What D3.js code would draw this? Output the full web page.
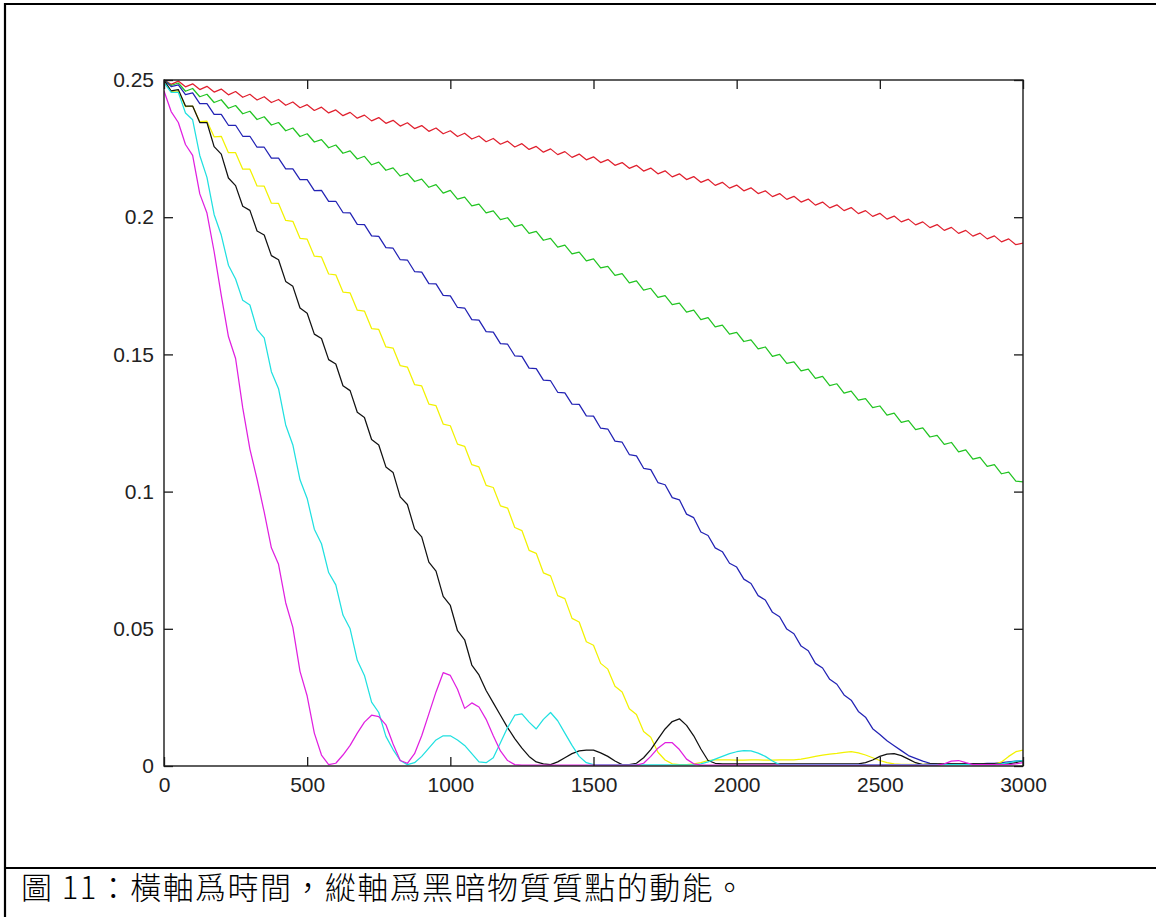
<!DOCTYPE html>
<html>
<head>
<meta charset="utf-8">
<script src="https://cdn.jsdelivr.net/npm/d3@7"></script>
<style>
  html, body { margin: 0; padding: 0; background: #fff; }
  svg { display: block; }
</style>
</head>
<body>
<svg id="chart" width="1156" height="917"></svg>
<script>
// Kinetic energy of the dark-matter particles, sampled every 25 time units (0..3000)
const timeStep = 25;
const xTicks = [0, 500, 1000, 1500, 2000, 2500, 3000];
const xTickLabels = ["0", "500", "1000", "1500", "2000", "2500", "3000"];
const yTicks = [0, 0.05, 0.1, 0.15, 0.2, 0.25];
const yTickLabels = ["0", "0.05", "0.1", "0.15", "0.2", "0.25"];
const caption = "圖 11：橫軸爲時間，縱軸爲黑暗物質質點的動能。";

const red = [
  0.2500,0.2484,0.2496,0.2475,0.2486,0.2465,0.2477,0.2456,0.2467,0.2446,
  0.2458,0.2437,0.2448,0.2427,0.2439,0.2418,0.2429,0.2408,0.2420,0.2399,
  0.2410,0.2389,0.2401,0.2380,0.2391,0.2370,0.2382,0.2361,0.2372,0.2351,
  0.2363,0.2342,0.2353,0.2332,0.2344,0.2323,0.2334,0.2313,0.2325,0.2304,
  0.2315,0.2294,0.2306,0.2285,0.2296,0.2275,0.2287,0.2266,0.2277,0.2256,
  0.2268,0.2247,0.2258,0.2237,0.2249,0.2228,0.2239,0.2218,0.2230,0.2209,
  0.2220,0.2199,0.2210,0.2189,0.2199,0.2178,0.2189,0.2168,0.2179,0.2158,
  0.2169,0.2147,0.2158,0.2137,0.2148,0.2127,0.2138,0.2116,0.2127,0.2106,
  0.2117,0.2096,0.2107,0.2086,0.2096,0.2075,0.2086,0.2065,0.2076,0.2055,
  0.2066,0.2044,0.2055,0.2034,0.2045,0.2024,0.2035,0.2013,0.2024,0.2003,
  0.2014,0.1993,0.2004,0.1983,0.1993,0.1972,0.1983,0.1962,0.1973,0.1952,
  0.1963,0.1941,0.1952,0.1931,0.1942,0.1921,0.1932,0.1910,0.1921,0.1900,
  0.1906
];

const green = [
  0.2500,0.2480,0.2489,0.2459,0.2469,0.2439,0.2448,0.2418,0.2428,0.2397,
  0.2407,0.2377,0.2386,0.2356,0.2366,0.2336,0.2345,0.2315,0.2325,0.2294,
  0.2304,0.2274,0.2283,0.2253,0.2263,0.2233,0.2242,0.2212,0.2222,0.2191,
  0.2201,0.2171,0.2180,0.2150,0.2160,0.2130,0.2139,0.2109,0.2119,0.2088,
  0.2098,0.2066,0.2073,0.2041,0.2048,0.2016,0.2023,0.1991,0.1998,0.1966,
  0.1973,0.1941,0.1948,0.1916,0.1923,0.1891,0.1898,0.1866,0.1873,0.1841,
  0.1848,0.1815,0.1821,0.1788,0.1794,0.1761,0.1768,0.1734,0.1741,0.1708,
  0.1714,0.1681,0.1687,0.1654,0.1661,0.1627,0.1634,0.1600,0.1607,0.1574,
  0.1580,0.1547,0.1553,0.1520,0.1527,0.1493,0.1500,0.1467,0.1473,0.1440,
  0.1446,0.1413,0.1420,0.1386,0.1393,0.1359,0.1366,0.1333,0.1339,0.1306,
  0.1312,0.1279,0.1286,0.1252,0.1259,0.1226,0.1232,0.1199,0.1205,0.1172,
  0.1179,0.1145,0.1152,0.1118,0.1125,0.1092,0.1098,0.1065,0.1071,0.1038,
  0.1035
];

const blue = [
  0.2500,0.2476,0.2482,0.2447,0.2453,0.2414,0.2414,0.2375,0.2375,0.2335,
  0.2335,0.2295,0.2295,0.2255,0.2255,0.2215,0.2215,0.2176,0.2176,0.2137,
  0.2137,0.2097,0.2098,0.2058,0.2058,0.2017,0.2016,0.1974,0.1973,0.1932,
  0.1930,0.1889,0.1887,0.1845,0.1844,0.1802,0.1800,0.1758,0.1757,0.1715,
  0.1713,0.1671,0.1669,0.1627,0.1625,0.1583,0.1581,0.1539,0.1537,0.1495,
  0.1493,0.1450,0.1448,0.1406,0.1404,0.1362,0.1360,0.1319,0.1318,0.1276,
  0.1275,0.1231,0.1228,0.1184,0.1180,0.1135,0.1130,0.1085,0.1080,0.1033,
  0.1025,0.0978,0.0970,0.0918,0.0905,0.0853,0.0840,0.0795,0.0781,0.0739,
  0.0725,0.0681,0.0665,0.0621,0.0605,0.0560,0.0544,0.0499,0.0482,0.0437,
  0.0420,0.0374,0.0357,0.0316,0.0298,0.0259,0.0240,0.0199,0.0178,0.0136,
  0.0115,0.0092,0.0074,0.0056,0.0038,0.0028,0.0018,0.0010,0.0008,0.0007,
  0.0008,0.0007,0.0008,0.0009,0.0008,0.0010,0.0010,0.0012,0.0015,0.0018,
  0.0020
];

const yellow = [
  0.2500,0.2458,0.2460,0.2403,0.2405,0.2348,0.2350,0.2293,0.2295,0.2235,
  0.2235,0.2175,0.2175,0.2114,0.2113,0.2051,0.2050,0.1988,0.1985,0.1923,
  0.1920,0.1858,0.1855,0.1793,0.1790,0.1727,0.1724,0.1661,0.1658,0.1594,
  0.1591,0.1527,0.1523,0.1459,0.1454,0.1390,0.1385,0.1319,0.1313,0.1246,
  0.1240,0.1173,0.1165,0.1098,0.1090,0.1023,0.1015,0.0948,0.0940,0.0869,
  0.0858,0.0786,0.0775,0.0704,0.0693,0.0621,0.0610,0.0538,0.0525,0.0453,
  0.0440,0.0374,0.0353,0.0291,0.0270,0.0209,0.0188,0.0126,0.0105,0.0050,
  0.0022,0.0008,0.0005,0.0005,0.0008,0.0012,0.0020,0.0022,0.0022,0.0022,
  0.0021,0.0021,0.0022,0.0022,0.0021,0.0021,0.0022,0.0022,0.0022,0.0025,
  0.0030,0.0035,0.0040,0.0043,0.0046,0.0050,0.0052,0.0048,0.0040,0.0030,
  0.0020,0.0012,0.0008,0.0006,0.0006,0.0006,0.0006,0.0006,0.0006,0.0006,
  0.0006,0.0006,0.0006,0.0006,0.0006,0.0006,0.0006,0.0015,0.0035,0.0052,
  0.0058
];

const black = [
  0.2500,0.2460,0.2465,0.2405,0.2405,0.2345,0.2345,0.2257,0.2230,0.2143,
  0.2115,0.2040,0.2025,0.1950,0.1935,0.1860,0.1845,0.1766,0.1748,0.1669,
  0.1650,0.1574,0.1558,0.1481,0.1465,0.1386,0.1368,0.1289,0.1270,0.1190,
  0.1170,0.1090,0.1070,0.0981,0.0953,0.0864,0.0835,0.0743,0.0710,0.0618,
  0.0585,0.0493,0.0460,0.0368,0.0332,0.0275,0.0230,0.0185,0.0140,0.0100,
  0.0065,0.0035,0.0015,0.0008,0.0005,0.0015,0.0030,0.0045,0.0055,0.0058,
  0.0058,0.0048,0.0035,0.0018,0.0005,0.0005,0.0010,0.0030,0.0060,0.0098,
  0.0135,0.0162,0.0172,0.0148,0.0110,0.0062,0.0020,0.0010,0.0008,0.0008,
  0.0008,0.0008,0.0008,0.0008,0.0008,0.0008,0.0008,0.0008,0.0008,0.0008,
  0.0008,0.0008,0.0008,0.0008,0.0008,0.0008,0.0008,0.0008,0.0012,0.0022,
  0.0035,0.0043,0.0045,0.0038,0.0025,0.0012,0.0005,0.0008,0.0008,0.0008,
  0.0008,0.0008,0.0008,0.0008,0.0008,0.0008,0.0008,0.0008,0.0008,0.0012,
  0.0020
];

const cyan = [
  0.2490,0.2455,0.2455,0.2380,0.2355,0.2225,0.2145,0.2010,0.1935,0.1825,
  0.1775,0.1697,0.1680,0.1590,0.1560,0.1437,0.1375,0.1243,0.1170,0.1043,
  0.0975,0.0863,0.0810,0.0705,0.0660,0.0550,0.0500,0.0385,0.0330,0.0233,
  0.0195,0.0108,0.0060,0.0020,0.0005,0.0012,0.0035,0.0065,0.0095,0.0110,
  0.0110,0.0095,0.0075,0.0045,0.0015,0.0012,0.0030,0.0085,0.0140,0.0185,
  0.0190,0.0160,0.0135,0.0170,0.0195,0.0165,0.0120,0.0075,0.0035,0.0012,
  0.0005,0.0004,0.0004,0.0004,0.0004,0.0004,0.0004,0.0004,0.0004,0.0004,
  0.0004,0.0004,0.0004,0.0004,0.0004,0.0008,0.0015,0.0025,0.0035,0.0045,
  0.0052,0.0056,0.0055,0.0047,0.0035,0.0018,0.0005,0.0005,0.0005,0.0005,
  0.0005,0.0005,0.0005,0.0005,0.0005,0.0005,0.0005,0.0005,0.0005,0.0005,
  0.0005,0.0005,0.0005,0.0005,0.0005,0.0005,0.0005,0.0005,0.0005,0.0005,
  0.0005,0.0005,0.0005,0.0005,0.0005,0.0005,0.0005,0.0008,0.0012,0.0018,
  0.0020
];

const magenta = [
  0.2460,0.2385,0.2345,0.2265,0.2225,0.2085,0.2015,0.1875,0.1715,0.1565,
  0.1485,0.1305,0.1155,0.1045,0.0925,0.0795,0.0735,0.0595,0.0505,0.0345,
  0.0255,0.0120,0.0040,0.0005,0.0010,0.0040,0.0075,0.0120,0.0160,0.0185,
  0.0180,0.0150,0.0080,0.0020,0.0010,0.0045,0.0110,0.0190,0.0270,0.0340,
  0.0330,0.0280,0.0210,0.0230,0.0215,0.0170,0.0110,0.0055,0.0020,0.0005,
  0.0003,0.0003,0.0003,0.0003,0.0003,0.0003,0.0003,0.0003,0.0003,0.0003,
  0.0003,0.0003,0.0003,0.0003,0.0003,0.0003,0.0003,0.0010,0.0035,0.0065,
  0.0085,0.0085,0.0060,0.0025,0.0008,0.0003,0.0003,0.0003,0.0003,0.0003,
  0.0003,0.0003,0.0003,0.0003,0.0003,0.0003,0.0003,0.0003,0.0003,0.0003,
  0.0003,0.0003,0.0003,0.0003,0.0003,0.0003,0.0003,0.0003,0.0003,0.0003,
  0.0003,0.0003,0.0003,0.0003,0.0003,0.0003,0.0003,0.0003,0.0003,0.0008,
  0.0018,0.0020,0.0012,0.0005,0.0005,0.0005,0.0005,0.0005,0.0005,0.0008,
  0.0012
];

// Plot order (last one ends up on top)
const series = [
  { values: red,     color: "#e0202e" },
  { values: green,   color: "#22c422" },
  { values: blue,    color: "#2222b4" },
  { values: yellow,  color: "#f2f200" },
  { values: black,   color: "#111111" },
  { values: cyan,    color: "#20e0e0" },
  { values: magenta, color: "#e020e0" }
];

const W = 1156, H = 917;
const plot = { left: 164, right: 1023, top: 80, bottom: 766 };

const svg = d3.select("#chart");

// Page frame and caption cell
const frame = svg.append("g").attr("stroke", "#000").attr("stroke-width", 2.2);
frame.append("line").attr("x1", 5).attr("x2", 5).attr("y1", 3).attr("y2", H);
frame.append("line").attr("x1", 4).attr("x2", W).attr("y1", 4).attr("y2", 4);
frame.append("line").attr("x1", 4).attr("x2", W).attr("y1", 868).attr("y2", 868);

svg.append("text")
  .attr("x", 21)
  .attr("y", 899)
  .attr("font-family", "'Noto Sans CJK TC', 'Noto Sans CJK SC', sans-serif")
  .attr("font-size", 31)
  .attr("font-weight", 300)
  .attr("textLength", 724)
  .attr("lengthAdjust", "spacing")
  .attr("fill", "#000")
  .text(caption);

const x = d3.scaleLinear().domain([0, 3000]).range([plot.left, plot.right]);
const y = d3.scaleLinear().domain([0, 0.25]).range([plot.bottom, plot.top]);

svg.append("defs").append("clipPath").attr("id", "plotClip")
  .append("rect")
  .attr("x", plot.left).attr("y", plot.top - 2)
  .attr("width", plot.right - plot.left).attr("height", plot.bottom - plot.top + 2);

const line = d3.line()
  .x((d, i) => x(i * timeStep))
  .y(d => y(d));

const lines = svg.append("g").attr("clip-path", "url(#plotClip)");
series.forEach(s => {
  lines.append("path")
    .datum(s.values)
    .attr("fill", "none")
    .attr("stroke", s.color)
    .attr("stroke-width", 1.25)
    .attr("stroke-linejoin", "round")
    .attr("d", line);
});

// Axes: ticks point inward on all four sides
const tickFont = "'Liberation Sans', Arial, Helvetica, sans-serif";
function styleAxis(g) {
  g.select(".domain").remove();
  g.selectAll(".tick line").attr("stroke", "#1a1a1a").attr("stroke-width", 1.3);
  g.selectAll(".tick text")
    .attr("font-family", tickFont)
    .attr("font-size", 21)
    .attr("fill", "#222");
}

svg.append("g")
  .attr("transform", `translate(0,${plot.bottom})`)
  .call(d3.axisBottom(x).tickValues(xTicks)
    .tickFormat((d, i) => xTickLabels[i]).tickSizeInner(-9).tickSizeOuter(0).tickPadding(11))
  .call(styleAxis);

svg.append("g")
  .attr("transform", `translate(${plot.left},0)`)
  .call(d3.axisLeft(y).tickValues(yTicks)
    .tickFormat((d, i) => yTickLabels[i]).tickSizeInner(-9).tickSizeOuter(0).tickPadding(10))
  .call(styleAxis);

svg.append("g")
  .attr("transform", `translate(0,${plot.top})`)
  .call(d3.axisTop(x).tickValues(xTicks).tickFormat("").tickSizeInner(-9).tickSizeOuter(0))
  .call(styleAxis);

svg.append("g")
  .attr("transform", `translate(${plot.right},0)`)
  .call(d3.axisRight(y).tickValues(yTicks).tickFormat("").tickSizeInner(-9).tickSizeOuter(0))
  .call(styleAxis);

// Axes box
svg.append("rect")
  .attr("x", plot.left).attr("y", plot.top)
  .attr("width", plot.right - plot.left).attr("height", plot.bottom - plot.top)
  .attr("fill", "none").attr("stroke", "#1a1a1a").attr("stroke-width", 1.4);
</script>
</body>
</html>
